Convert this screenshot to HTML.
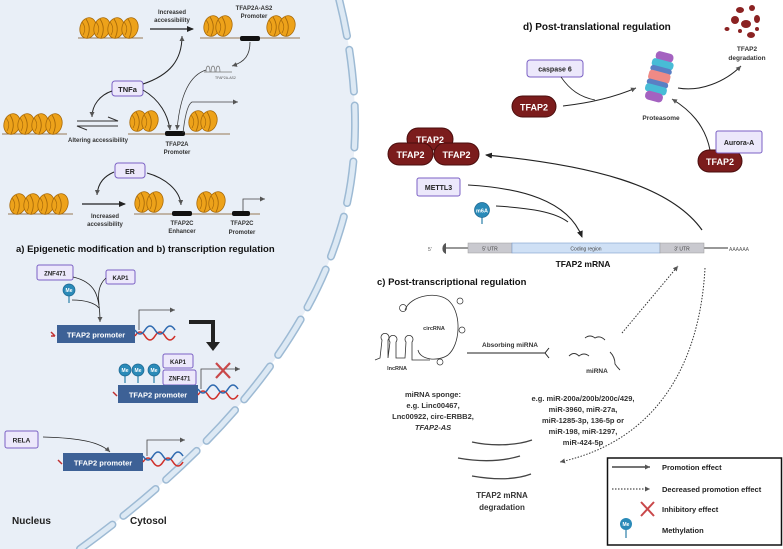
<!DOCTYPE html>
<html><head><meta charset="utf-8"><style>
body{margin:0;background:#fff}
svg{display:block;font-family:"Liberation Sans",sans-serif}
.b{font-weight:bold}
</style></head><body>
<svg width="783" height="549" viewBox="0 0 783 549" xmlns="http://www.w3.org/2000/svg">
<defs>
<marker id="ah" markerWidth="8" markerHeight="8" refX="6" refY="3" orient="auto" markerUnits="userSpaceOnUse"><path d="M0,0 L7,3 L0,6 z" fill="#222"/></marker>
<marker id="ahs" markerWidth="6" markerHeight="6" refX="5" refY="2.5" orient="auto" markerUnits="userSpaceOnUse"><path d="M0,0 L5,2.5 L0,5 z" fill="#555"/></marker>
<g id="disc"><ellipse rx="8" ry="10.5" fill="#eda21a" stroke="#a86a0a" stroke-width="0.8" transform="rotate(15)"/><path d="M-2,-9 Q4,0 -1,10" stroke="#a86a0a" fill="none" stroke-width="0.9"/><path d="M-6,-6 Q-1,0 -5,7" stroke="#a86a0a" fill="none" stroke-width="0.7"/></g>
<g id="n2"><use href="#disc" x="0"/><use href="#disc" x="12"/></g>
<g id="n4"><path d="M-10,10 L55,10" stroke="#7a5020" stroke-width="0.8"/><use href="#disc" x="0"/><use href="#disc" x="14"/><use href="#disc" x="28"/><use href="#disc" x="42"/></g>
<g id="me"><line x1="0" y1="0" x2="0" y2="13" stroke="#2a7fa8" stroke-width="1.2"/><circle r="6" fill="#2a8ab8" stroke="#1d6690" stroke-width="0.7"/><text x="0" y="2" font-size="5" fill="#fff" text-anchor="middle" class="b">Me</text></g>
<g id="helix"><path d="M0,6 q5,-8 10,0 t10,0 t10,0 t10,0" stroke="#d0302a" stroke-width="1.6" fill="none"/><path d="M0,0 q5,8 10,0 t10,0 t10,0 t10,0" stroke="#2f6ab0" stroke-width="1.6" fill="none"/></g>
</defs>

<path d="M0,-5 L338,-5 C355,60 365,150 340,230 C310,330 230,440 80,549 L0,549 Z" fill="#e9eff7"/>
<path d="M338,-5 C355,60 365,150 340,230 C310,330 230,440 80,549" fill="none" stroke="#9dbad4" stroke-width="8" stroke-dasharray="42 14" stroke-linecap="round"/>
<path d="M338,-5 C355,60 365,150 340,230 C310,330 230,440 80,549" fill="none" stroke="#dde9f4" stroke-width="5" stroke-dasharray="42 14" stroke-linecap="round"/>

<use href="#n4" x="88" y="28"/>
<line x1="150" y1="29" x2="193" y2="29" stroke="#222" stroke-width="1.3" marker-end="url(#ah)"/>
<text x="172" y="14" font-size="6" text-anchor="middle" fill="#333" class="b">Increased</text>
<text x="172" y="22" font-size="6" text-anchor="middle" fill="#333" class="b">accessibility</text>
<path d="M200,38 L300,38" stroke="#7a5020" stroke-width="0.8"/>
<use href="#n2" x="212" y="26"/><use href="#n2" x="275" y="26"/>
<rect x="240" y="36" width="20" height="5" rx="2" fill="#111"/>
<text x="254" y="10" font-size="6" text-anchor="middle" fill="#333" class="b">TFAP2A-AS2</text>
<text x="254" y="18" font-size="6" text-anchor="middle" fill="#333" class="b">Promoter</text>
<path d="M250,42 C250,55 245,62 232,66" fill="none" stroke="#333" stroke-width="0.8" marker-end="url(#ahs)"/>
<path d="M206,72 c0,-8 4,-8 4,0 M211,72 c0,-8 4,-8 4,0 M216,72 c0,-8 4,-8 4,0 M204,72 L232,72" stroke="#777" fill="none" stroke-width="0.7"/>
<text x="215" y="79" font-size="3.5" fill="#555">TFAP2A-AS2</text>
<path d="M206,70 C190,75 180,95 177,130" fill="none" stroke="#333" stroke-width="0.7" marker-end="url(#ahs)"/>
<rect x="112" y="81" width="31" height="15" rx="3" fill="#ece8fb" stroke="#7b61c4" stroke-width="1"/>
<text x="127.5" y="92" font-size="7.5" text-anchor="middle" class="b" fill="#222">TNFa</text>
<path d="M143,84 C170,75 182,60 182,36" fill="none" stroke="#222" stroke-width="1" marker-end="url(#ahs)"/>
<path d="M112,91 C100,95 92,105 92,117" fill="none" stroke="#222" stroke-width="1" marker-end="url(#ahs)"/>
<path d="M143,90 C160,100 168,115 170,130" fill="none" stroke="#222" stroke-width="1" marker-end="url(#ahs)"/>
<use href="#n4" x="12" y="124"/>
<path d="M77,121 L118,121 L108,117 M118,126 L77,126 L87,130" fill="none" stroke="#333" stroke-width="1"/>
<text x="98" y="142" font-size="6" text-anchor="middle" fill="#333" class="b">Altering accessibility</text>
<path d="M128,134 L230,134" stroke="#7a5020" stroke-width="0.8"/>
<use href="#n2" x="138" y="121"/><use href="#n2" x="197" y="121"/>
<rect x="165" y="131" width="20" height="5" rx="2" fill="#111"/>
<path d="M183,133 C185,115 188,104 192,102 L238,102" fill="none" stroke="#444" stroke-width="0.8" marker-end="url(#ahs)"/>
<text x="177" y="146" font-size="6" text-anchor="middle" fill="#333" class="b">TFAP2A</text>
<text x="177" y="154" font-size="6" text-anchor="middle" fill="#333" class="b">Promoter</text>
<rect x="115" y="163" width="30" height="15" rx="3" fill="#ece8fb" stroke="#7b61c4" stroke-width="1"/>
<text x="130" y="174" font-size="7" text-anchor="middle" class="b" fill="#222">ER</text>
<path d="M114,172 C105,176 98,182 97,195" fill="none" stroke="#222" stroke-width="1" marker-end="url(#ahs)"/>
<path d="M147,173 C165,178 180,190 181,205" fill="none" stroke="#222" stroke-width="1" marker-end="url(#ahs)"/>
<use href="#n4" x="18" y="204"/>
<line x1="82" y1="204" x2="125" y2="204" stroke="#222" stroke-width="1.2" marker-end="url(#ah)"/>
<text x="105" y="218" font-size="6" text-anchor="middle" fill="#333" class="b">Increased</text>
<text x="105" y="226" font-size="6" text-anchor="middle" fill="#333" class="b">accessibility</text>
<path d="M134,214 L260,214" stroke="#7a5020" stroke-width="0.8"/>
<use href="#n2" x="143" y="202"/><use href="#n2" x="205" y="202"/>
<rect x="172" y="211" width="20" height="5" rx="2" fill="#111"/>
<rect x="232" y="211" width="18" height="5" rx="2" fill="#111"/>
<path d="M243,211 L243,199 L265,199" fill="none" stroke="#444" stroke-width="0.8" marker-end="url(#ahs)"/>
<text x="182" y="225" font-size="6" text-anchor="middle" fill="#333" class="b">TFAP2C</text>
<text x="182" y="233" font-size="6" text-anchor="middle" fill="#333" class="b">Enhancer</text>
<text x="242" y="225" font-size="6" text-anchor="middle" fill="#333" class="b">TFAP2C</text>
<text x="242" y="234" font-size="6" text-anchor="middle" fill="#333" class="b">Promoter</text>
<text x="16" y="252" font-size="9.5" class="b" fill="#111">a) Epigenetic modification and b) transcription regulation</text>

<rect x="37" y="265" width="36" height="15" rx="2" fill="#ece8fb" stroke="#7b61c4" stroke-width="1"/>
<text x="55" y="275.5" font-size="6" text-anchor="middle" class="b" fill="#222">ZNF471</text>
<rect x="106" y="270" width="29" height="14" rx="2" fill="#ece8fb" stroke="#7b61c4" stroke-width="1"/>
<text x="120.5" y="280" font-size="6" text-anchor="middle" class="b" fill="#222">KAP1</text>
<use href="#me" x="69" y="290"/>
<path d="M73,277 C95,282 100,295 100,322" fill="none" stroke="#222" stroke-width="0.8" marker-end="url(#ahs)"/>
<path d="M106,278 C98,285 98,295 99,305 M72,300 C85,300 95,303 99,308" fill="none" stroke="#222" stroke-width="0.8"/>
<path d="M51,332 l4,4 M51,336 l4,0" stroke="#c03030" stroke-width="1.5"/>
<rect x="57" y="325" width="78" height="18" fill="#3d6196"/>
<text x="96" y="337.5" font-size="7.5" text-anchor="middle" class="b" fill="#fff">TFAP2 promoter</text>
<use href="#helix" x="135" y="330"/>
<path d="M139,330 L139,310 L175,310" fill="none" stroke="#444" stroke-width="0.8" marker-end="url(#ahs)"/>
<path d="M189,322 L213,322 L213,343" fill="none" stroke="#222" stroke-width="4"/>
<path d="M206,342 L220,342 L213,351 z" fill="#222"/>
<use href="#me" x="125" y="370"/><use href="#me" x="138" y="370"/><use href="#me" x="154" y="370"/>
<rect x="163" y="354" width="30" height="14" rx="2" fill="#ece8fb" stroke="#7b61c4" stroke-width="1"/>
<text x="178" y="364" font-size="6" text-anchor="middle" class="b" fill="#222">KAP1</text>
<rect x="163" y="370" width="33" height="15" rx="2" fill="#ece8fb" stroke="#7b61c4" stroke-width="1"/>
<text x="179.5" y="380.5" font-size="6" text-anchor="middle" class="b" fill="#222">ZNF471</text>
<rect x="118" y="385" width="80" height="18" fill="#3d6196"/>
<text x="158" y="397.5" font-size="7.5" text-anchor="middle" class="b" fill="#fff">TFAP2 promoter</text>
<path d="M113,392 l4,4" stroke="#c03030" stroke-width="1.5"/>
<use href="#helix" x="198" y="389"/>
<path d="M201,389 L201,369 L240,369" fill="none" stroke="#444" stroke-width="0.8" marker-end="url(#ahs)"/>
<path d="M216,363 L230,378 M230,363 L216,378" stroke="#c9484a" stroke-width="2.2"/>
<rect x="5" y="431" width="33" height="17" rx="2" fill="#ece8fb" stroke="#7b61c4" stroke-width="1"/>
<text x="21.5" y="442.5" font-size="6.5" text-anchor="middle" class="b" fill="#222">RELA</text>
<path d="M43,437 C80,438 100,442 110,452" fill="none" stroke="#222" stroke-width="0.8" marker-end="url(#ahs)"/>
<path d="M58,460 l4,4" stroke="#c03030" stroke-width="1.5"/>
<rect x="63" y="453" width="80" height="18" fill="#3d6196"/>
<text x="103" y="465.5" font-size="7.5" text-anchor="middle" class="b" fill="#fff">TFAP2 promoter</text>
<use href="#helix" x="143" y="456"/>
<path d="M147,456 L147,440 L185,440" fill="none" stroke="#444" stroke-width="0.8" marker-end="url(#ahs)"/>
<text x="12" y="524" font-size="10" fill="#222" class="b">Nucleus</text>
<text x="130" y="524" font-size="10" fill="#222" class="b">Cytosol</text>

<text x="523" y="30" font-size="10" class="b" fill="#111">d) Post-translational regulation</text>
<g fill="#8b2222">
<ellipse cx="740" cy="10" rx="4" ry="3"/><ellipse cx="752" cy="8" rx="3" ry="3"/><ellipse cx="735" cy="20" rx="4" ry="4"/><ellipse cx="746" cy="24" rx="5" ry="4"/><ellipse cx="757" cy="19" rx="3" ry="4"/><ellipse cx="727" cy="29" rx="2.5" ry="2"/><ellipse cx="740" cy="31" rx="2" ry="2"/><ellipse cx="751" cy="35" rx="4" ry="3"/><ellipse cx="757" cy="29" rx="2" ry="2"/>
</g>
<text x="747" y="51" font-size="6.5" text-anchor="middle" class="b" fill="#333">TFAP2</text>
<text x="747" y="60" font-size="6.5" text-anchor="middle" class="b" fill="#333">degradation</text>
<path d="M678,88 C700,92 725,82 741,66" fill="none" stroke="#222" stroke-width="1" marker-end="url(#ahs)"/>
<rect x="527" y="60" width="56" height="17" rx="3" fill="#ece8fb" stroke="#7b61c4" stroke-width="1"/>
<text x="555" y="71.5" font-size="7" text-anchor="middle" class="b" fill="#222">caspase 6</text>
<path d="M561,77 C570,90 580,97 595,100" fill="none" stroke="#222" stroke-width="0.8"/>
<rect x="512" y="96" width="44" height="21" rx="10.5" fill="#7b1c1c" stroke="#4a0e0e"/>
<text x="534" y="110.5" font-size="9" text-anchor="middle" class="b" fill="#fff">TFAP2</text>
<path d="M563,106 C590,103 615,97 636,88" fill="none" stroke="#222" stroke-width="1" marker-end="url(#ahs)"/>
<g transform="rotate(15 660 78)">
<rect x="650" y="52" width="18" height="9" rx="4" fill="#a462c0"/>
<rect x="648" y="60" width="22" height="8" rx="3" fill="#48bcd6"/>
<rect x="648" y="67" width="22" height="6" rx="3" fill="#5a7fc4"/>
<rect x="648" y="72" width="22" height="10" rx="3" fill="#ef8a86"/>
<rect x="648" y="81" width="22" height="6" rx="3" fill="#5a7fc4"/>
<rect x="648" y="86" width="22" height="8" rx="3" fill="#48bcd6"/>
<rect x="650" y="93" width="18" height="9" rx="4" fill="#a462c0"/>
</g>
<text x="661" y="120" font-size="6.5" text-anchor="middle" class="b" fill="#333">Proteasome</text>
<path d="M710,150 C705,125 690,110 672,99" fill="none" stroke="#222" stroke-width="1" marker-end="url(#ahs)"/>
<rect x="698" y="150" width="44" height="22" rx="11" fill="#7b1c1c" stroke="#4a0e0e"/>
<text x="720" y="165" font-size="9" text-anchor="middle" class="b" fill="#fff">TFAP2</text>
<rect x="716" y="131" width="46" height="22" rx="2" fill="#ece8fb" stroke="#7b61c4" stroke-width="1"/>
<text x="739" y="145" font-size="7" text-anchor="middle" class="b" fill="#222">Aurora-A</text>
<rect x="407" y="128" width="46" height="22" rx="11" fill="#7b1c1c" stroke="#4a0e0e"/>
<text x="430" y="143" font-size="9" text-anchor="middle" class="b" fill="#fff">TFAP2</text>
<rect x="388" y="143" width="45" height="22" rx="11" fill="#7b1c1c" stroke="#4a0e0e"/>
<text x="410.5" y="158" font-size="9" text-anchor="middle" class="b" fill="#fff">TFAP2</text>
<rect x="434" y="143" width="45" height="22" rx="11" fill="#7b1c1c" stroke="#4a0e0e"/>
<text x="456.5" y="158" font-size="9" text-anchor="middle" class="b" fill="#fff">TFAP2</text>
<path d="M702,230 C670,185 590,165 486,155" fill="none" stroke="#222" stroke-width="1.2" marker-end="url(#ah)"/>
<rect x="417" y="178" width="43" height="18" rx="2" fill="#ece8fb" stroke="#7b61c4" stroke-width="1"/>
<text x="438.5" y="190" font-size="7" text-anchor="middle" class="b" fill="#222">METTL3</text>
<path d="M468,185 C520,188 568,200 582,237" fill="none" stroke="#222" stroke-width="1.1" marker-end="url(#ah)"/>
<path d="M496,206 C530,208 555,212 568,222" fill="none" stroke="#222" stroke-width="1"/>
<line x1="482" y1="212" x2="482" y2="224" stroke="#2a7fa8" stroke-width="1.2"/>
<circle cx="482" cy="210" r="7.5" fill="#2a8ab8" stroke="#1d6690" stroke-width="0.7"/>
<text x="482" y="212.5" font-size="5.5" text-anchor="middle" class="b" fill="#fff">m6A</text>
<text x="428" y="251" font-size="5" fill="#555">5'</text>
<path d="M446,243 a6,6 0 0 0 0,11 z" fill="#555"/>
<line x1="446" y1="248" x2="728" y2="248" stroke="#777" stroke-width="1.5"/>
<rect x="468" y="243" width="44" height="10" fill="#c9c9cf" stroke="#999" stroke-width="0.5"/>
<text x="490" y="250.5" font-size="5" text-anchor="middle" fill="#444">5' UTR</text>
<rect x="512" y="243" width="148" height="10" fill="#cfe0f5" stroke="#7a9ccc" stroke-width="0.6"/>
<text x="586" y="250.5" font-size="5" text-anchor="middle" fill="#444">Coding region</text>
<rect x="660" y="243" width="44" height="10" fill="#c9c9cf" stroke="#999" stroke-width="0.5"/>
<text x="682" y="250.5" font-size="5" text-anchor="middle" fill="#444">3' UTR</text>
<text x="729" y="251" font-size="5" fill="#555">AAAAAA</text>
<text x="583" y="267" font-size="8.5" text-anchor="middle" class="b" fill="#111">TFAP2  mRNA</text>
<text x="377" y="285" font-size="9.5" class="b" fill="#111">c) Post-transcriptional regulation</text>
<path d="M405,310 C410,295 440,290 450,302 C462,315 460,345 448,355 C438,362 420,360 418,350" fill="none" stroke="#333" stroke-width="0.8"/>
<circle cx="403" cy="308" r="3.5" fill="none" stroke="#333" stroke-width="0.7"/>
<circle cx="460" cy="301" r="3" fill="none" stroke="#333" stroke-width="0.7"/>
<circle cx="462" cy="330" r="3" fill="none" stroke="#333" stroke-width="0.7"/>
<circle cx="440" cy="362" r="3" fill="none" stroke="#333" stroke-width="0.7"/>
<text x="434" y="330" font-size="5.5" text-anchor="middle" class="b" fill="#333">circRNA</text>
<path d="M375,360 L380,358 L382,340 a4,4 0 1 1 6,0 L388,358 L390,342 a4,4 0 1 1 6,0 L396,358 L405,358 L406,342 a4,4 0 1 1 6,0 L412,360 L430,360" fill="none" stroke="#333" stroke-width="0.8"/>
<text x="397" y="370" font-size="5.5" text-anchor="middle" class="b" fill="#333">lncRNA</text>
<line x1="467" y1="353" x2="545" y2="353" stroke="#222" stroke-width="1"/>
<path d="M549,348 L545,353 L549,358" fill="none" stroke="#222" stroke-width="1"/>
<text x="510" y="347" font-size="6.5" text-anchor="middle" class="b" fill="#333">Absorbing miRNA</text>
<path d="M585,338 q5,-4 10,0 q5,-3 10,2 M569,356 q5,-5 10,0 q5,-4 10,0 M610,352 q5,5 5,12 q2,3 5,6" fill="none" stroke="#333" stroke-width="0.9"/>
<text x="597" y="373" font-size="6.5" text-anchor="middle" class="b" fill="#333">miRNA</text>
<path d="M622,333 L678,266" fill="none" stroke="#333" stroke-width="1" stroke-dasharray="1.5 1.5" marker-end="url(#ahs)"/>
<path d="M705,268 C700,360 660,440 560,462" fill="none" stroke="#333" stroke-width="1" stroke-dasharray="1.5 1.5" marker-end="url(#ahs)"/>
<g font-size="7.5" text-anchor="middle" class="b" fill="#333">
<text x="433" y="397">miRNA sponge:</text>
<text x="433" y="408">e.g. Linc00467,</text>
<text x="433" y="419">Lnc00922, circ-ERBB2,</text>
<text x="433" y="430" font-style="italic">TFAP2-AS</text>
<text x="583" y="401">e.g. miR-200a/200b/200c/429,</text>
<text x="583" y="412">miR-3960, miR-27a,</text>
<text x="583" y="423">miR-1285-3p, 136-5p or</text>
<text x="583" y="434">miR-198,  miR-1297,</text>
<text x="583" y="445">miR-424-5p</text>
<text x="502" y="498" font-size="8">TFAP2 mRNA</text>
<text x="502" y="510" font-size="8">degradation</text>
</g>
<path d="M472,442 C490,446 515,446 532,440 M458,458 C480,462 500,462 520,456 M472,476 C495,480 515,480 531,474" fill="none" stroke="#444" stroke-width="1.3"/>
<rect x="607.5" y="458" width="174" height="87" fill="#fff" stroke="#111" stroke-width="1.5"/>
<line x1="612" y1="467" x2="650" y2="467" stroke="#222" stroke-width="1.3" marker-end="url(#ahs)"/>
<line x1="612" y1="489" x2="650" y2="489" stroke="#222" stroke-width="1" stroke-dasharray="1.5 1.5" marker-end="url(#ahs)"/>
<path d="M641,502 L654,516 M654,502 L641,516" stroke="#c9484a" stroke-width="2"/>
<line x1="626" y1="526" x2="626" y2="538" stroke="#2a7fa8" stroke-width="1.2"/>
<circle cx="626" cy="524" r="6" fill="#2a8ab8"/>
<text x="626" y="526" font-size="5" text-anchor="middle" fill="#fff" class="b">Me</text>
<g font-size="7.5" class="b" fill="#222">
<text x="662" y="470">Promotion effect</text>
<text x="662" y="492">Decreased promotion effect</text>
<text x="662" y="512">Inhibitory  effect</text>
<text x="662" y="533">Methylation</text>
</g>
</svg>
</body></html>
